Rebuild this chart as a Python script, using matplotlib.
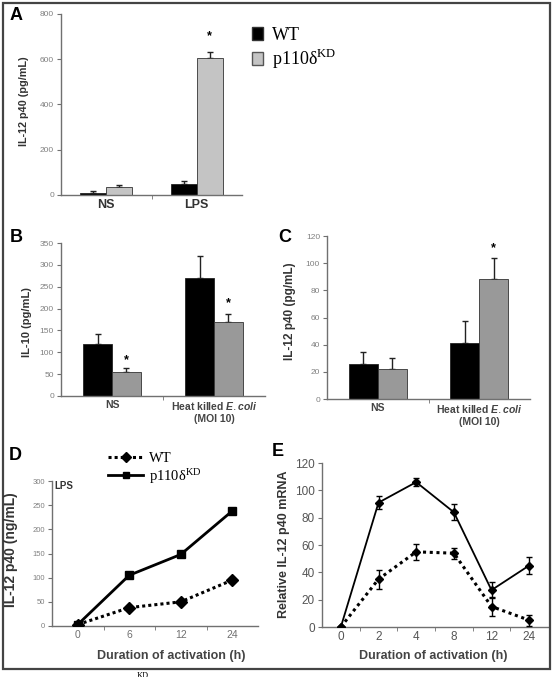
import matplotlib
matplotlib.use("Agg")
import matplotlib.pyplot as plt
from matplotlib.patches import Patch, Rectangle
from matplotlib.lines import Line2D
import numpy as np

plt.rcParams['font.family'] = ['Liberation Sans', 'DejaVu Sans']
plt.rcParams['mathtext.fontset'] = 'custom'
plt.rcParams['mathtext.it'] = 'Liberation Sans:italic:bold'

W, H = 555, 677

# panel A: IL-12 p40 (pg/mL)
a_cats = ["NS", "LPS"]
a_wt = [8, 47]
a_wt_err = [8, 15]
a_kd = [37, 606]
a_kd_err = [6, 26]

# panel B: IL-10 (pg/mL)
bc_cats = ["NS", "Heat killed $\\mathit{E.coli}$\n(MOI 10)"]
b_wt = [119, 271]
b_wt_err = [23, 50]
b_kd = [55, 170]
b_kd_err = [8, 17]

# panel C: IL-12 p40 (pg/mL)
c_wt = [25.5, 41.5]
c_wt_err = [9, 16]
c_kd = [22, 88]
c_kd_err = [8.5, 15.5]

# panel D: IL-12 p40 (ng/mL) vs time
d_hours = ["0", "6", "12", "24"]
d_wt = [3, 38, 50, 95]
d_kd = [3, 105, 148, 238]

# panel E: relative mRNA vs time
e_hours = ["0", "2", "4", "8", "12", "24"]
e_wt = [0, 35, 55, 54, 15, 5]
e_wt_err = [0, 7, 6, 4, 7, 4]
e_kd = [0, 91, 106, 84, 27, 45]
e_kd_err = [0, 5, 3, 6, 6, 6]

kd_label = "p110δ$^{\\mathregular{KD}}$"

fig = plt.figure(figsize=(W / 100, H / 100), dpi=100)


def box(x0, y0, x1, y1):
    return fig.add_axes([x0 / W, 1 - y1 / H, (x1 - x0) / W, (y1 - y0) / H])


def style(ax, n, ymax, ystep, tick_fs, tick_col, xfs, xcol):
    for s in ['top', 'right']:
        ax.spines[s].set_visible(False)
    for s in ['left', 'bottom']:
        ax.spines[s].set_color('#707070')
        ax.spines[s].set_linewidth(1.0)
    ax.set_xlim(-0.5, n - 0.5)
    ax.set_ylim(0, ymax)
    ax.set_yticks(np.arange(0, ymax + 1, ystep))
    ax.set_xticks(range(n))
    ax.set_xticks(np.arange(0.5, n - 1, 1), minor=True)
    ax.tick_params(axis='x', which='major', length=0, labelsize=xfs, labelcolor=xcol, pad=3)
    ax.tick_params(axis='x', which='minor', length=3, color='#707070')
    ax.tick_params(axis='y', length=3, color='#707070', labelsize=tick_fs,
                   labelcolor=tick_col, pad=2)


def bars(ax, wt, wt_err, kd, kd_err, w, kd_col):
    x = np.arange(len(wt))
    ax.bar(x - w / 2, wt, w, color='black', edgecolor='#222222', lw=0.6, zorder=2)
    ax.bar(x + w / 2, kd, w, color=kd_col, edgecolor='#333333', lw=0.6, zorder=2)
    ax.errorbar(x - w / 2, wt, yerr=[np.zeros(len(wt)), wt_err], fmt='none',
                ecolor='#222222', elinewidth=1, capsize=2, zorder=1)
    ax.errorbar(x + w / 2, kd, yerr=[np.zeros(len(kd)), kd_err], fmt='none',
                ecolor='#222222', elinewidth=1, capsize=2, zorder=1)


# ---- A
axA = box(61, 14, 242, 195)
bars(axA, a_wt, a_wt_err, a_kd, a_kd_err, 0.29, '#c4c4c4')
style(axA, 2, 800, 200, 6, '#808080', 9, '#333333')
axA.set_xticklabels(a_cats, fontweight='bold')
axA.text(1 + 0.145, 700, '*', ha='center', va='center', fontsize=9, fontweight='bold')
axA.legend(handles=[Patch(facecolor='black', edgecolor='#333333', label='WT'),
                    Patch(facecolor='#c4c4c4', edgecolor='#555555', label=kd_label)],
           loc='upper left', bbox_to_anchor=(252 / W, 1 - 27 / H), bbox_transform=fig.transFigure,
           frameon=False, prop={'family': 'Liberation Serif', 'size': 13},
           handlelength=0.6, handleheight=0.75, handletextpad=0.5, labelspacing=0.15,
           borderaxespad=0, borderpad=0)

# ---- B
axB = box(61, 243, 265, 396)
bars(axB, b_wt, b_wt_err, b_kd, b_kd_err, 0.28, '#999999')
style(axB, 2, 350, 50, 6, '#808080', 7.5, '#444444')
axB.set_xticklabels(bc_cats, fontweight='bold')
axB.text(0.14, 82, '*', ha='center', va='center', fontsize=9, fontweight='bold')
axB.text(1.14, 213, '*', ha='center', va='center', fontsize=9, fontweight='bold')

# ---- C
axC = box(327, 236, 530, 399)
bars(axC, c_wt, c_wt_err, c_kd, c_kd_err, 0.285, '#999999')
style(axC, 2, 120, 20, 6, '#808080', 7.5, '#444444')
axC.set_xticklabels(bc_cats, fontweight='bold')
axC.text(1.14, 111, '*', ha='center', va='center', fontsize=9, fontweight='bold')

# ---- D
axD = box(52, 481, 258, 626)
xd = np.arange(len(d_hours))
axD.plot(xd, d_wt, color='black', lw=2.2, ls=(0, (1, 1)), marker='D', ms=6.5, zorder=3)
axD.plot(xd, d_kd, color='black', lw=2.0, ls='-', marker='s', ms=6, zorder=3)
style(axD, 4, 300, 50, 5.5, '#808080', 7.5, '#707070')
axD.set_xticklabels(d_hours)
axD.text(0.01, 1.0, 'LPS', transform=axD.transAxes, fontsize=7, fontweight='bold',
         color='#333333', ha='left', va='top')
axD.legend(handles=[Line2D([], [], color='black', lw=2.2, ls=(0, (1, 1)), marker='D', ms=5, label='WT'),
                    Line2D([], [], color='black', lw=2.0, marker='s', ms=5, label=kd_label)],
           loc='upper left', bbox_to_anchor=(108 / W, 1 - 452 / H), bbox_transform=fig.transFigure,
           frameon=False, prop={'family': 'Liberation Serif', 'size': 10.5},
           handlelength=2.4, handletextpad=0.4, labelspacing=0.05, borderaxespad=0, borderpad=0)

# ---- E
axE = box(322, 463, 548, 627)
xe = np.arange(len(e_hours))
axE.errorbar(xe, e_wt, yerr=e_wt_err, color='black', lw=2.2, ls=(0, (1, 1.2)), marker='D', ms=4.5,
             capsize=2, elinewidth=1, zorder=3)
axE.errorbar(xe, e_kd, yerr=e_kd_err, color='black', lw=1.3, ls='-', marker='D', ms=4.5,
             capsize=2, elinewidth=1, zorder=3)
style(axE, 6, 120, 20, 8.5, '#555555', 8.5, '#555555')
axE.set_xticklabels(e_hours)

# axis titles
fig.text(24 / W, 1 - 101 / H, 'IL-12 p40 (pg/mL)', rotation=90, ha='center', va='center',
         fontsize=7.8, fontweight='bold', color='#333333')
fig.text(27 / W, 1 - 322 / H, 'IL-10 (pg/mL)', rotation=90, ha='center', va='center',
         fontsize=8, fontweight='bold', color='#333333')
fig.text(290 / W, 1 - 311 / H, 'IL-12 p40 (pg/mL)', rotation=90, ha='center', va='center',
         fontsize=8.5, fontweight='bold', color='#333333')
fig.text(11 / W, 1 - 550 / H, 'IL-12 p40 (ng/mL)', rotation=90, ha='center', va='center',
         fontsize=10, fontweight='bold', color='#333333')
fig.text(284 / W, 1 - 544 / H, 'Relative IL-12 p40 mRNA', rotation=90, ha='center', va='center',
         fontsize=9, fontweight='bold', color='#333333')
fig.text(171 / W, 1 - 656 / H, 'Duration of activation (h)', ha='center', va='center',
         fontsize=9, fontweight='bold', color='#444444')
fig.text(433 / W, 1 - 656 / H, 'Duration of activation (h)', ha='center', va='center',
         fontsize=9, fontweight='bold', color='#444444')

# panel letters
for lab, px, py in [('A', 16, 15), ('B', 16, 238), ('C', 285, 238), ('D', 15, 455), ('E', 278, 452)]:
    fig.text(px / W, 1 - py / H, lab, ha='center', va='center', fontsize=13, fontweight='bold')

# outer frame and cut caption
fig.patches.append(Rectangle((3 / W, 1 - 669 / H), 547 / W, 666 / H, transform=fig.transFigure,
                             fill=False, edgecolor='#444444', lw=1.6))
fig.text(137 / W, 1 - 672 / H, 'KD', ha='left', va='top', fontsize=6, family='Liberation Serif')

fig.savefig('out.png', dpi=100)
